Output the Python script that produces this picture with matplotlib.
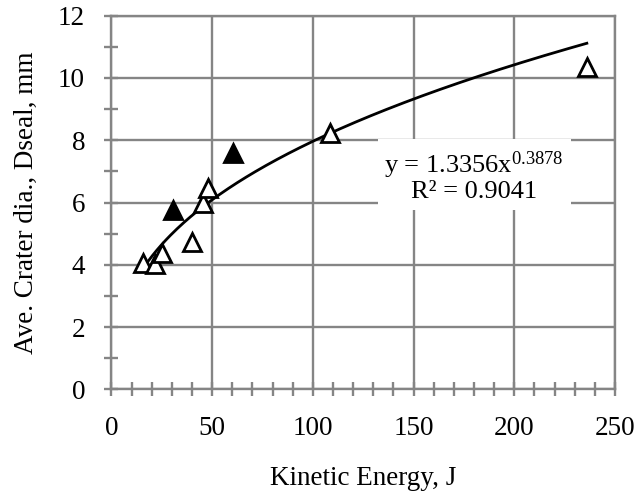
import numpy as np
import matplotlib
matplotlib.use("Agg")
import matplotlib.pyplot as plt
from matplotlib.ticker import MultipleLocator

plt.rcParams['font.family'] = ['Liberation Serif', 'DejaVu Serif']
plt.rcParams['mathtext.fontset'] = 'custom'
plt.rcParams['mathtext.rm'] = 'Liberation Serif'
plt.rcParams['mathtext.it'] = 'Liberation Serif:italic'

# Data
open_energy = [15.8, 21.6, 24.9, 39.8, 45.6, 48.1, 108.5, 236.0]
open_dia = [4.05, 4.03, 4.37, 4.74, 5.97, 6.46, 8.22, 10.36]
filled_energy = [30.7, 60.2]
filled_dia = [5.76, 7.58]

# Power-law trendline shown on the chart
fit_a = 1.3356
fit_b = 0.3878
fit_r2 = 0.9041
fit_range = [16.0, 236.0]

x_ticks = [0, 50, 100, 150, 200, 250]
y_ticks = [0, 2, 4, 6, 8, 10, 12]

grid_c = '#858585'

fig = plt.figure(figsize=(6.43, 4.97), dpi=100)
ax = fig.add_axes([0.1734, 0.2167, 0.7831, 0.7517])

ax.set_xlim(0, 250)
ax.set_ylim(0, 12)
ax.set_xticks(x_ticks)
ax.set_yticks(y_ticks)
ax.xaxis.set_minor_locator(MultipleLocator(10))
ax.yaxis.set_minor_locator(MultipleLocator(1))

ax.grid(True, which='major', color=grid_c, linewidth=1.7)
ax.set_axisbelow(True)
for s in ax.spines.values():
    s.set_color(grid_c)
    s.set_linewidth(1.7)

ax.tick_params(which='both', direction='inout', color=grid_c, width=1.7,
               labelsize=19.5)
ax.tick_params(which='major', length=10)
ax.tick_params(which='minor', length=10)
ax.tick_params(axis='x', which='major', pad=14)
ax.tick_params(axis='y', which='major', pad=14)

xf = np.linspace(fit_range[0], fit_range[1], 200)
ax.plot(xf, fit_a * xf ** fit_b, color='black', linewidth=2.0, zorder=3)

ax.plot(open_energy, open_dia, linestyle='none', marker='^', markersize=13.5,
        markerfacecolor='white', markeredgecolor='black', markeredgewidth=2.0,
        zorder=4)
ax.plot(filled_energy, filled_dia, linestyle='none', marker='^', markersize=13.5,
        markerfacecolor='black', markeredgecolor='black', markeredgewidth=2.0,
        zorder=4)

eq = f"y = {fit_a}x$^{{{fit_b}}}$\nR\u00b2 = {fit_r2}"
ax.text(180, 6.85, eq, ha='center', va='center', multialignment='center',
        fontsize=19, linespacing=1.0, zorder=5,
        bbox=dict(facecolor='white', edgecolor='none', pad=5))

ax.set_xlabel('Kinetic Energy, J', fontsize=19.5, labelpad=18)
ax.set_ylabel('Ave. Crater dia., Dseal, mm', fontsize=19.5, labelpad=14)

fig.savefig('out.png', dpi=100)
